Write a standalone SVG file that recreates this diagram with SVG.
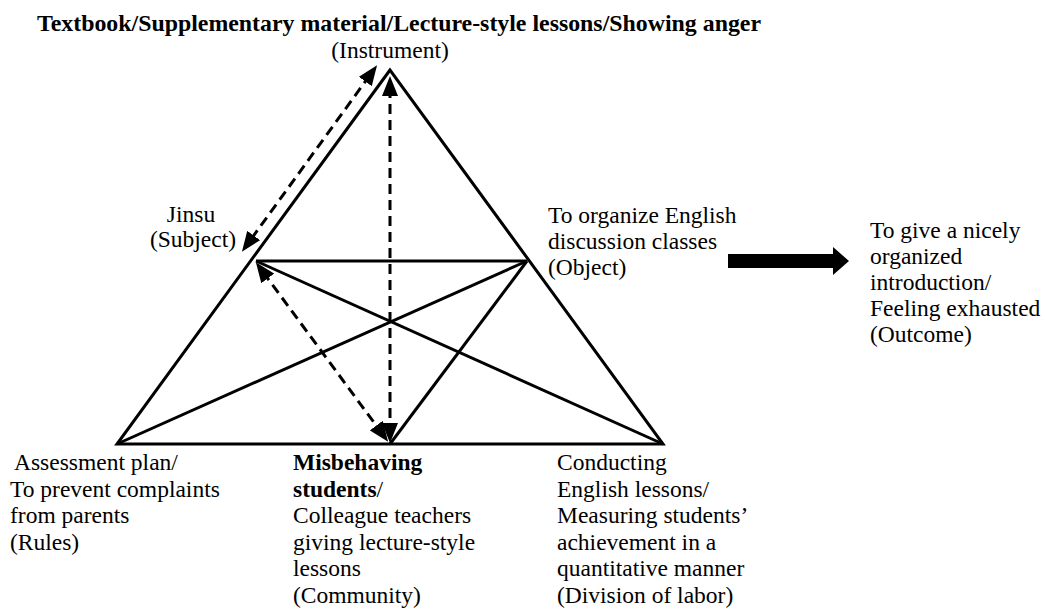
<svg xmlns="http://www.w3.org/2000/svg" width="1045" height="609" viewBox="0 0 1045 609">
<style>
text{font-family:"Liberation Serif","Times New Roman",serif;font-size:23.5px;fill:#000}
.b{font-weight:bold}
.s{stroke:#000;stroke-width:3;fill:none}
.d{stroke:#000;stroke-width:3;fill:none;stroke-dasharray:10 6}
</style>
<defs>
<marker id="ah" viewBox="0 0 20 16" refX="8" refY="8" markerWidth="20" markerHeight="16" markerUnits="userSpaceOnUse" orient="auto-start-reverse">
<path d="M0,0 L20,8 L0,16 z" fill="#000"/>
</marker>
</defs>
<rect width="1045" height="609" fill="#fff"/>
<g id="connectors">
<polygon class="s" points="390,70 117,444 663,444"/>
<line class="s" x1="256" y1="261" x2="527" y2="261"/>
<line class="s" x1="256" y1="261" x2="663" y2="444"/>
<line class="s" x1="527" y1="261" x2="117" y2="444"/>
<line class="s" x1="527" y1="261" x2="390" y2="444"/>
<line class="d" x1="390" y1="88" x2="390" y2="431" marker-start="url(#ah)" marker-end="url(#ah)"/>
<line class="d" x1="263" y1="272" x2="381" y2="432" marker-start="url(#ah)" marker-end="url(#ah)"/>
<line class="d" x1="370" y1="75" x2="249" y2="242" marker-start="url(#ah)" marker-end="url(#ah)"/>
<polygon points="728,254 833,254 833,247 849,261 833,275 833,268 728,268" fill="#000"/>
</g>
<g id="instrument">
<text class="b" x="37" y="31" textLength="724" lengthAdjust="spacingAndGlyphs">Textbook/Supplementary material/Lecture-style lessons/Showing anger</text>
<text x="390" y="58" text-anchor="middle">(Instrument)</text>
</g>
<g id="subject">
<text x="191" y="222" text-anchor="middle">Jinsu</text>
<text x="193" y="247" text-anchor="middle">(Subject)</text>
</g>
<g id="object">
<text x="548" y="223">To organize English</text>
<text x="548" y="249">discussion classes</text>
<text x="548" y="275">(Object)</text>
</g>
<g id="outcome">
<text x="870" y="238">To give a nicely</text>
<text x="870" y="264">organized</text>
<text x="870" y="290">introduction/</text>
<text x="870" y="316">Feeling exhausted</text>
<text x="870" y="342">(Outcome)</text>
</g>
<g id="rules">
<text x="14" y="470">Assessment plan/</text>
<text x="10" y="497">To prevent complaints</text>
<text x="10" y="523">from parents</text>
<text x="10" y="550">(Rules)</text>
</g>
<g id="community">
<text x="293" y="470" class="b">Misbehaving</text>
<text x="293" y="497"><tspan class="b">students</tspan>/</text>
<text x="293" y="523">Colleague teachers</text>
<text x="293" y="550">giving lecture-style</text>
<text x="293" y="576">lessons</text>
<text x="293" y="603">(Community)</text>
</g>
<g id="division">
<text x="557" y="470">Conducting</text>
<text x="557" y="497">English lessons/</text>
<text x="557" y="523">Measuring students’</text>
<text x="557" y="550">achievement in a</text>
<text x="557" y="576">quantitative manner</text>
<text x="557" y="603">(Division of labor)</text>
</g>
</svg>
